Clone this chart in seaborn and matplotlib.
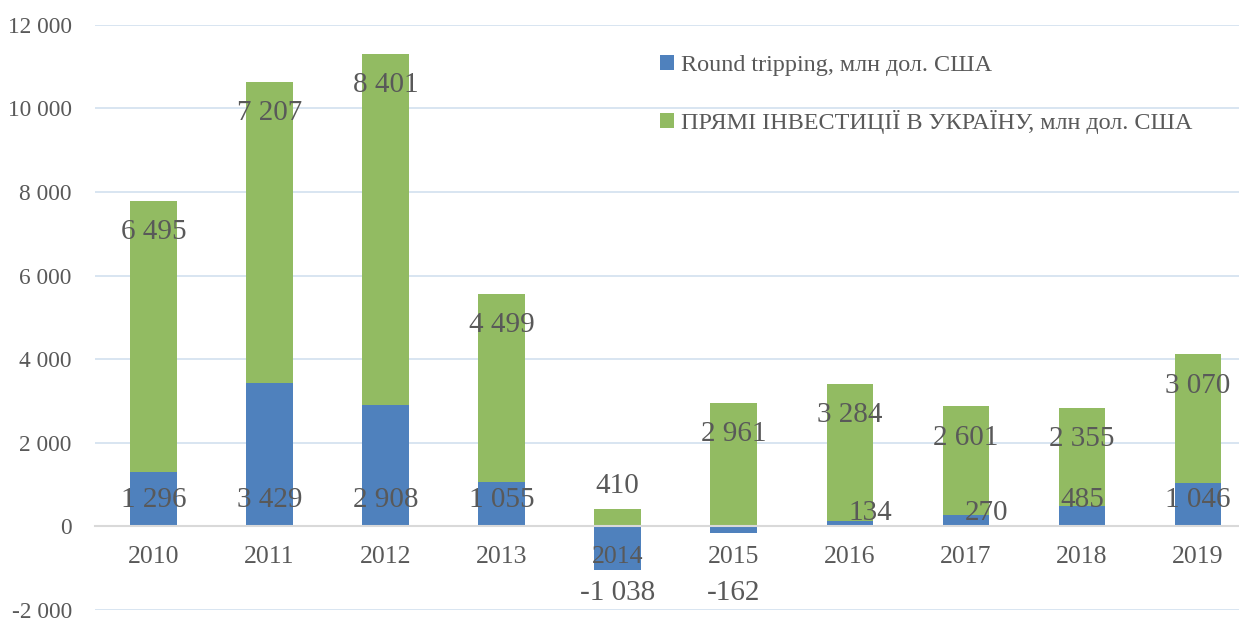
import numpy as np
import pandas as pd
import matplotlib
matplotlib.use("Agg")
import matplotlib.pyplot as plt
import seaborn as sns
from matplotlib.ticker import FuncFormatter

# -----------------------------
# Data
# -----------------------------
years = ["2010", "2011", "2012", "2013", "2014", "2015", "2016", "2017", "2018", "2019"]
round_tripping = [1296, 3429, 2908, 1055, -1038, -162, 134, 270, 485, 1046]
direct_invest = [6495, 7207, 8401, 4499, 410, 2961, 3284, 2601, 2355, 3070]

label_rt = "Round tripping, млн дол. США"
label_di = "ПРЯМІ ІНВЕСТИЦІЇ В УКРАЇНУ, млн дол. США"

blue = "#4F81BD"
green = "#92BB62"
text_col = "#595959"

df = pd.DataFrame({"year": years, "rt": round_tripping, "di": direct_invest})
df["base"] = np.clip(df["rt"], 0, None)

# -----------------------------
# Plot
# -----------------------------
sns.set_style("white")
plt.rcParams["font.family"] = ["Liberation Serif", "DejaVu Serif"]

fig = plt.figure(figsize=(12.39, 6.19), dpi=100)
ax = fig.add_axes([0.077, 0.0145, 0.923, 0.9455])

sns.barplot(data=df, x="year", y="rt", color=blue, width=0.4,
            linewidth=0, saturation=1, ax=ax, label=label_rt)
sns.barplot(data=df, x="year", y="di", color=green, width=0.4,
            linewidth=0, saturation=1, ax=ax, bottom=df["base"], label=label_di)

ax.set_ylim(-2000, 12000)
ax.set_xlim(-0.5, 9.354)
ax.set_yticks(range(-2000, 12001, 2000))
ax.yaxis.set_major_formatter(FuncFormatter(lambda v, p: f"{int(v):,}".replace(",", " ")))
ax.grid(axis="y", color="#D6E3F0", linewidth=1.3)
ax.set_axisbelow(True)
for s in ["top", "right", "left"]:
    ax.spines[s].set_visible(False)
ax.spines["bottom"].set_position(("data", 0))
ax.spines["bottom"].set_color("#D9D9D9")
ax.spines["bottom"].set_linewidth(1.5)
ax.tick_params(axis="x", length=0, labelbottom=False)
ax.tick_params(axis="y", length=0, pad=17, labelsize=16.8, labelcolor=text_col)
ax.set_xlabel("")
ax.set_ylabel("")

# category labels drawn over the bars (as in the reference)
for i, yr in enumerate(years):
    ax.annotate(yr, (i, 0), xytext=(0, -22), textcoords="offset points",
                ha="center", va="center", fontsize=18.5, color=text_col, zorder=10)

# data labels
for i, (rt, di, b) in enumerate(zip(df["rt"], df["di"], df["base"])):
    rt_txt = f"{rt:,}".replace(",", " ")
    di_txt = f"{di:,}".replace(",", " ")
    if rt < 0:
        ax.text(i, -1600, rt_txt, ha="center", va="center", fontsize=21, color=text_col)
    elif rt < 400:
        ax.annotate(rt_txt, (i, 320), xytext=(15, 0), textcoords="offset points",
                    ha="center", va="center", fontsize=21, color=text_col)
    else:
        ax.text(i, 620, rt_txt, ha="center", va="center", fontsize=21, color=text_col)
    top = b + di
    off = -22.5 if di > 1000 else 17
    ax.annotate(di_txt, (i, top), xytext=(0, off), textcoords="offset points",
                ha="center", va="center", fontsize=21, color=text_col)

leg = ax.legend(loc="upper left", bbox_to_anchor=(0.475, 0.985), frameon=False,
                fontsize=17.4, labelspacing=1.4, handlelength=0.55, handleheight=0.55,
                handletextpad=0.3)
for t in leg.get_texts():
    t.set_color(text_col)

plt.savefig("out.png", dpi=100)
